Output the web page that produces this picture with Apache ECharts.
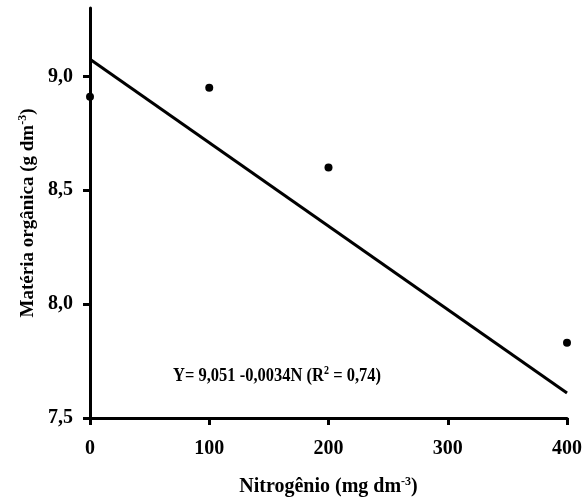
<!DOCTYPE html>
<html>
<head>
<meta charset="utf-8">
<script src="https://cdn.jsdelivr.net/npm/echarts@6/dist/echarts.min.js"></script>
<style>html,body{margin:0;padding:0;background:#fff;}#c{width:585px;height:504px;}</style>
</head>
<body>
<div id="c"></div>
<script>
const pointsX = [0, 100, 200, 400];
const pointsY = [8.91, 8.95, 8.60, 7.83];
const lineX = [0, 400];
const lineY = [9.075, 7.61];
const xTicks = [0, 100, 200, 300, 400];
const yTicks = [7.5, 8.0, 8.5, 9.0];

const FONT = 'Liberation Serif';
const chart = echarts.init(document.getElementById('c'));
const fmt = v => v.toFixed(1).replace('.', ',');

const titleRich = (size) => ({
  b: { fontFamily: FONT, fontWeight: 'bold', fontSize: size, color: '#000' },
  s: { fontFamily: FONT, fontWeight: 'bold', fontSize: 12, color: '#000', verticalAlign: 'top', padding: [0, 0, 10, 0] }
});

chart.setOption({
  animation: false,
  grid: { left: 90, right: 17, top: 8, bottom: 86, containLabel: false },
  xAxis: {
    type: 'value', min: 0, max: 400, interval: 100,
    name: '{b|Nitrogênio (mg dm}{s|-3}{b|)}',
    nameLocation: 'middle', nameGap: 58,
    nameTextStyle: { rich: titleRich(20) },
    axisLine: { lineStyle: { color: '#000', width: 3 } },
    axisTick: { show: true, inside: false, length: 7, customValues: xTicks, lineStyle: { color: '#000', width: 3 } },
    axisLabel: { fontFamily: FONT, fontWeight: 'bold', fontSize: 20, color: '#000', margin: 21, customValues: xTicks },
    splitLine: { show: false }
  },
  yAxis: {
    type: 'value', min: 7.5, max: 9.3, interval: 0.5,
    name: '{b|Matéria orgânica (g dm}{s|-3}{b|)}',
    nameLocation: 'middle', nameGap: 48,
    nameTextStyle: { rich: titleRich(19) },
    axisLine: { show: true, lineStyle: { color: '#000', width: 3 } },
    axisTick: { show: true, length: 7, customValues: yTicks, lineStyle: { color: '#000', width: 3 } },
    axisLabel: { fontFamily: FONT, fontWeight: 'bold', fontSize: 20, color: '#000', margin: 17, customValues: yTicks, formatter: fmt },
    splitLine: { show: false }
  },
  graphic: [
    {
      type: 'text', x: 173, y: 376, scaleY: 1.15, originY: 0,
      style: {
        text: '{b|Y= 9,051 -0,0034N (R}{s|2}{b| = 0,74)}',
        align: 'left', verticalAlign: 'middle',
        rich: {
          b: { fontFamily: FONT, fontWeight: 'bold', fontSize: 16.5, fill: '#000' },
          s: { fontFamily: FONT, fontWeight: 'bold', fontSize: 10, fill: '#000', verticalAlign: 'top', padding: [0, 0, 8, 0] }
        }
      }
    }
  ],
  series: [
    {
      type: 'line', data: lineX.map((x, i) => [x, lineY[i]]),
      showSymbol: false, symbol: 'none',
      lineStyle: { color: '#000', width: 3 }, z: 3
    },
    {
      type: 'scatter', data: pointsX.map((x, i) => [x, pointsY[i]]),
      symbol: 'circle', symbolSize: 8, itemStyle: { color: '#000', opacity: 1 }, z: 4
    }
  ]
});
</script>
</body>
</html>
